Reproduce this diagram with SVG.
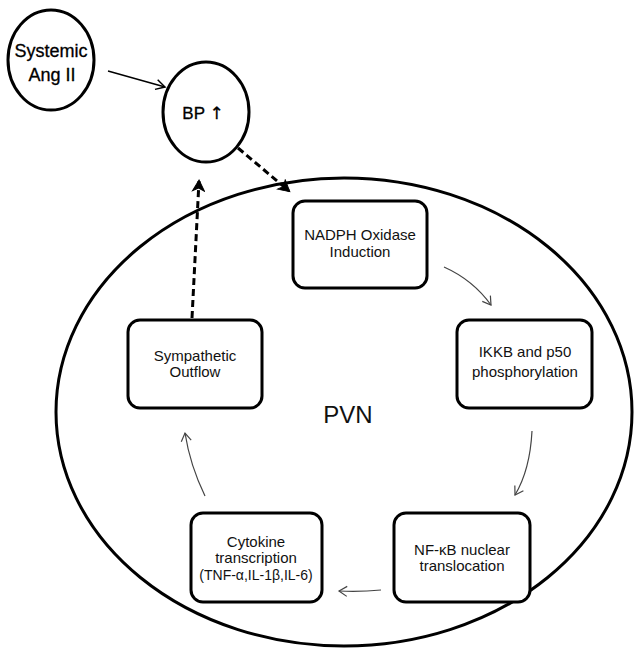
<svg xmlns="http://www.w3.org/2000/svg" width="635" height="649" viewBox="0 0 635 649">
<style>
.ell{fill:none;stroke:#000;stroke-width:3}
.box{fill:#fff;stroke:#000;stroke-width:3}
.t{font-family:"Liberation Sans",Arial,sans-serif;font-size:15px;fill:#111;text-anchor:middle}
.tb{font-family:"Liberation Sans",Arial,sans-serif;font-size:18px;fill:#000;text-anchor:middle;stroke:#000;stroke-width:0.3}
.thin{fill:none;stroke:#444;stroke-width:1.2}
.dash{fill:none;stroke:#000;stroke-width:3;stroke-dasharray:7,4}
</style>
<defs>
<marker id="openArrow" markerWidth="12" markerHeight="12" refX="10" refY="6" orient="auto" markerUnits="userSpaceOnUse">
<path d="M2,1 L10,6 L2,11" fill="none" stroke="#444" stroke-width="1.2"/>
</marker>
<marker id="blackArrow" markerWidth="12" markerHeight="12" refX="10" refY="6" orient="auto" markerUnits="userSpaceOnUse">
<path d="M1,1 L10,6 L1,11" fill="none" stroke="#000" stroke-width="1.5"/>
</marker>
<marker id="dashArrow" markerWidth="14" markerHeight="14" refX="11" refY="7" orient="auto" markerUnits="userSpaceOnUse">
<path d="M1,1 L12,7 L1,13 L4,7 Z" fill="#000" stroke="#000" stroke-width="1"/>
</marker>
</defs>

<g id="pvn">
<ellipse class="ell" cx="344" cy="412" rx="288" ry="234"/>
<text x="348" y="423" style="font-family:'Liberation Sans',Arial,sans-serif;font-size:24px;fill:#111;text-anchor:middle">PVN</text>
</g>

<g id="systemic">
<ellipse class="ell" cx="51" cy="60" rx="43" ry="50"/>
<text class="tb" x="51" y="57">Systemic</text>
<text class="tb" x="52" y="81">Ang II</text>
</g>

<g id="bp">
<ellipse class="ell" cx="206" cy="112" rx="43" ry="50"/>
<text class="tb" x="203" y="119" style="font-size:17px">BP <tspan style="font-family:'DejaVu Sans',sans-serif">↑</tspan></text>
</g>

<g id="nadph">
<rect class="box" x="293" y="201" width="134" height="87" rx="12"/>
<text class="t" x="360" y="240">NADPH Oxidase</text>
<text class="t" x="360" y="257">Induction</text>
</g>

<g id="ikkb">
<rect class="box" x="457" y="320" width="135" height="88" rx="12"/>
<text class="t" x="525" y="357">IKKB and p50</text>
<text class="t" x="525" y="377">phosphorylation</text>
</g>

<g id="nfkb">
<rect class="box" x="394" y="513" width="136" height="89" rx="12"/>
<text class="t" x="462" y="555">NF-κB nuclear</text>
<text class="t" x="462" y="571">translocation</text>
</g>

<g id="cytokine">
<rect class="box" x="191" y="513" width="131" height="89" rx="12"/>
<text class="t" x="256" y="547">Cytokine</text>
<text class="t" x="256" y="563">transcription</text>
<text class="t" x="256" y="580" style="font-size:14px">(TNF-α,IL-1β,IL-6)</text>
</g>

<g id="sympathetic">
<rect class="box" x="128" y="320" width="134" height="88" rx="12"/>
<text class="t" x="195" y="361">Sympathetic</text>
<text class="t" x="195" y="377">Outflow</text>
</g>

<g id="connectors">
<path class="thin" d="M108,71 L165,87" style="stroke:#000;stroke-width:1.4" marker-end="url(#blackArrow)"/>
<path class="dash" d="M238,148 L289,191" marker-end="url(#dashArrow)"/>
<path class="dash" d="M192,318 L199,181" marker-end="url(#dashArrow)"/>
<path class="thin" d="M444,267 Q473,280 491,305" marker-end="url(#openArrow)"/>
<path class="thin" d="M532,431 Q530,470 515,495" marker-end="url(#openArrow)"/>
<path class="thin" d="M381,590 Q360,592 339,591" marker-end="url(#openArrow)"/>
<path class="thin" d="M205,496 Q190,465 185,433" marker-end="url(#openArrow)"/>
</g>
</svg>
